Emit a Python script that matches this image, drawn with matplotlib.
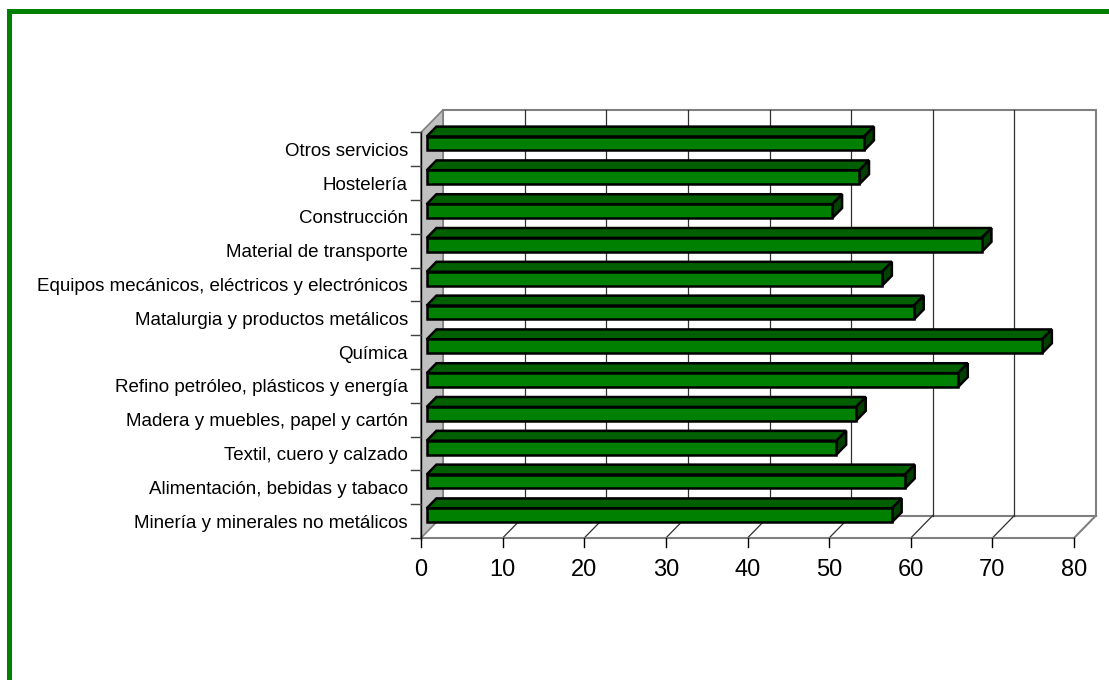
import matplotlib
matplotlib.use("Agg")
import matplotlib.pyplot as plt
from matplotlib.patches import Polygon, Rectangle

plt.rcParams['font.family'] = ['Liberation Sans', 'DejaVu Sans']

# categories listed bottom to top, as they appear on the axis
sectores = [
    "Minería y minerales no metálicos",
    "Alimentación, bebidas y tabaco",
    "Textil, cuero y calzado",
    "Madera y muebles, papel y cartón",
    "Refino petróleo, plásticos y energía",
    "Química",
    "Matalurgia y productos metálicos",
    "Equipos mecánicos, eléctricos y electrónicos",
    "Material de transporte",
    "Construcción",
    "Hostelería",
    "Otros servicios",
]
valores = [57.0, 58.6, 50.2, 52.6, 65.1, 75.4, 59.7, 55.8, 68.0, 49.7, 53.0, 53.6]
ticks_x = [0, 10, 20, 30, 40, 50, 60, 70, 80]

# layout of the 3d frame (pixels)
W, H = 1109, 680
X0_PX, PX_PER_UNIT = 421, 8.1625
Y0_PX, PX_PER_CAT = 538, 33.8
DEPTH_X, DEPTH_Y = 22, 22.5

verde = "#008000"
verde_sup = "#006000"
verde_fin = "#004000"
gris = "#808080"

fig = plt.figure(figsize=(W / 100, H / 100), dpi=100)
ax = fig.add_axes([0, 0, 1, 1])
ax.set_xlim(-X0_PX / PX_PER_UNIT, (W - X0_PX) / PX_PER_UNIT)
ax.set_ylim((Y0_PX - H) / PX_PER_CAT, Y0_PX / PX_PER_CAT)
ax.axis("off")

n = len(sectores)
xmax = ticks_x[-1]
ddx = DEPTH_X / PX_PER_UNIT
ddy = DEPTH_Y / PX_PER_CAT

# green frame (top and left sides)
fig.add_artist(Rectangle((7 / W, 1 - 14 / H), 1 - 7 / W, 5 / H, transform=fig.transFigure,
                         color=verde, lw=0))
fig.add_artist(Rectangle((7 / W, 0), 5 / W, 1 - 9 / H, transform=fig.transFigure,
                         color=verde, lw=0))

# back wall
ax.add_patch(Polygon([(ddx, ddy), (xmax + ddx, ddy), (xmax + ddx, n + ddy), (ddx, n + ddy)],
                     closed=True, facecolor="white", edgecolor=gris, lw=1.5, zorder=1))
for t in ticks_x[1:-1]:
    ax.plot([t + ddx, t + ddx], [ddy, n + ddy], color="#303030", lw=0.9, zorder=2)
    ax.plot([t, t + ddx], [0, ddy], color="#303030", lw=0.9, zorder=2)

# floor edges
ax.plot([xmax, xmax + ddx], [0, ddy], color=gris, lw=1.5, zorder=2)
ax.plot([0, xmax], [0, 0], color=gris, lw=1.5, zorder=3)

# left wall
ax.add_patch(Polygon([(0, 0), (ddx, ddy), (ddx, n + ddy), (0, n)],
                     closed=True, facecolor="#c0c0c0", edgecolor=gris, lw=1.2, zorder=3))

# bars
h = 0.41
d0, d1 = 0.26, 0.70
sx0, sy0 = d0 * ddx, d0 * ddy
sx1, sy1 = d1 * ddx, d1 * ddy
for i, v in enumerate(valores):
    yb = i + 0.5 - h / 2
    yt = i + 0.5 + h / 2
    front = [(sx0, yb + sy0), (v + sx0, yb + sy0), (v + sx0, yt + sy0), (sx0, yt + sy0)]
    top = [(sx0, yt + sy0), (v + sx0, yt + sy0), (v + sx1, yt + sy1), (sx1, yt + sy1)]
    end = [(v + sx0, yb + sy0), (v + sx1, yb + sy1), (v + sx1, yt + sy1), (v + sx0, yt + sy0)]
    for pts, col in [(top, verde_sup), (end, verde_fin), (front, verde)]:
        ax.add_patch(Polygon(pts, closed=True, facecolor=col, edgecolor="black",
                             lw=1.8, joinstyle="miter", zorder=5))

# axes lines and ticks
ax.plot([0, 0], [0, n], color="black", lw=1.0, zorder=6)
tick_len_y = 10 / PX_PER_UNIT
for k in range(n + 1):
    ax.plot([-tick_len_y, 0], [k, k], color="#404040", lw=1.0, zorder=6)
tick_len_x = 9 / PX_PER_CAT
for t in ticks_x:
    ax.plot([t, t], [0, -tick_len_x], color="black", lw=1.0, zorder=6)
    ax.text(t, -32 / PX_PER_CAT, str(t), ha="center", va="center", fontsize=17)

for i, s in enumerate(sectores):
    ax.text(-13 / PX_PER_UNIT, i + 0.5, s, ha="right", va="center_baseline", fontsize=13.5)

fig.savefig("out.png", dpi=100)
